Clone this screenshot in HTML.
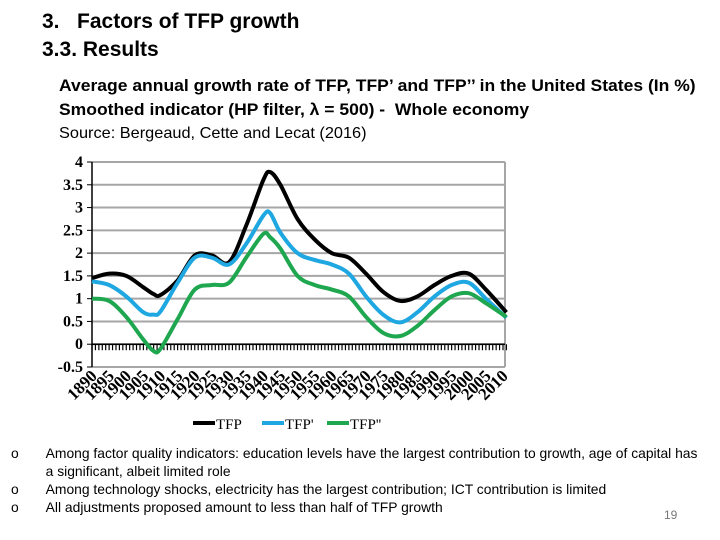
<!DOCTYPE html>
<html><head><meta charset="utf-8"><style>
body{margin:0;width:720px;height:540px;background:#fff;position:relative;overflow:hidden;font-family:"Liberation Sans",sans-serif;color:#000}
.t{position:absolute;white-space:nowrap;transform-origin:0 0}
</style></head><body>
<div class="t" style="left:42px;top:10px;font-size:21px;font-weight:bold;transform:scaleX(1.0)">3.&nbsp;&nbsp;&nbsp;Factors of TFP growth</div>
<div class="t" style="left:42px;top:38px;font-size:21px;font-weight:bold;transform:scaleX(1.0)">3.3. Results</div>
<div class="t" style="left:59px;top:76px;font-size:17px;font-weight:bold;transform:scaleX(1.03)">Average annual growth rate of TFP, TFP’ and TFP’’ in the United States (In %)</div>
<div class="t" style="left:59px;top:100px;font-size:17px;font-weight:bold;transform:scaleX(1.03)">Smoothed indicator (HP filter, λ = 500) -&nbsp; Whole economy</div>
<div class="t" style="left:59px;top:125px;font-size:16px;transform:scaleX(1.02)">Source: Bergeaud, Cette and Lecat (2016)</div>

<svg id="chart" width="720" height="540" style="position:absolute;left:0;top:0" font-family="Liberation Serif, serif"></svg>

<div class="t" style="left:11px;top:444px;font-size:14px;line-height:18px;transform:scaleX(0.99)">
<div><span style="display:inline-block;width:35px">o</span>Among factor quality indicators: education levels have the largest contribution to growth, age of capital has<br><span style="display:inline-block;width:35px"></span>a significant, albeit limited role</div>
<div><span style="display:inline-block;width:35px">o</span>Among technology shocks, electricity has the largest contribution; ICT contribution is limited</div>
<div><span style="display:inline-block;width:35px">o</span>All adjustments proposed amount to less than half of TFP growth</div>
</div>
<div class="t" style="left:664px;top:508px;font-size:12px;color:#777">19</div>

<script>
const years   = [1890,1895,1900,1905,1908,1910,1915,1920,1925,1930,1935,1940,1942,1945,1950,1955,1960,1965,1970,1975,1980,1985,1990,1995,2000,2005,2011];
const tfp     = [1.45,1.55,1.5,1.25,1.1,1.08,1.4,1.95,1.95,1.8,2.6,3.6,3.78,3.5,2.75,2.3,2.0,1.9,1.55,1.15,0.95,1.05,1.3,1.5,1.55,1.2,0.7];
const tfp1    = [1.38,1.3,1.05,0.7,0.65,0.72,1.35,1.9,1.9,1.75,2.2,2.82,2.88,2.45,2.0,1.85,1.75,1.55,1.05,0.65,0.48,0.7,1.05,1.3,1.35,1.0,0.58];
const tfp2    = [1.0,0.95,0.6,0.1,-0.15,-0.1,0.55,1.2,1.3,1.35,1.9,2.42,2.35,2.1,1.5,1.3,1.2,1.05,0.6,0.25,0.18,0.4,0.75,1.05,1.12,0.9,0.6];
const yTicks  = [4,3.5,3,2.5,2,1.5,1,0.5,0,-0.5];
const xLabels = [1890,1895,1900,1905,1910,1915,1920,1925,1930,1935,1940,1945,1950,1955,1960,1965,1970,1975,1980,1985,1990,1995,2000,2005,2010];
const seriesNames = ["TFP","TFP'","TFP''"];

const svg=document.getElementById('chart');
const NS='http://www.w3.org/2000/svg';
const L=92,R=505,T=162,B=367;
const x=y=>L+(y-1890)*(503-92)/120;
const yv=v=>T+(4-v)*(B-T)/4.5;
function mk(tag,attrs,parent){const e=document.createElementNS(NS,tag);for(const k in attrs)e.setAttribute(k,attrs[k]);(parent||svg).appendChild(e);return e;}

yTicks.forEach(v=>{
  const g=mk('line',{x1:L,x2:R,y1:yv(v),y2:yv(v),stroke:'#a6a6a6','stroke-width':2});
  
  
  const t=mk('text',{x:L-9,y:yv(v)+5,'text-anchor':'end','font-size':16,'font-weight':'bold'});
  t.textContent=v;
  
  
});
const ax=mk('line',{x1:L,x2:L,y1:T,y2:B,stroke:'#000','stroke-width':1.5});


yTicks.forEach(v=>{const tk=mk('line',{x1:L-5,x2:L,y1:yv(v),y2:yv(v),stroke:'#000'});

});
const rb=mk('line',{x1:R,x2:R,y1:T,y2:B,stroke:'#a6a6a6','stroke-width':2});


const xa=mk('line',{x1:L,x2:R,y1:yv(0),y2:yv(0),stroke:'#000','stroke-width':1.5});


for(let yr=1890;yr<=2011;yr++){
  const tk=mk('line',{x1:x(yr),x2:x(yr),y1:yv(0),y2:yv(0)+6,stroke:'#000','stroke-width':1.2});
  
  
}
xLabels.forEach(yr=>{
  const t=mk('text',{x:0,y:0,'text-anchor':'end','font-size':17,'font-weight':'bold',transform:`translate(${x(yr)+6},${B+10}) rotate(-45)`});
  t.textContent=yr;
  
  
});
function path(vals){
  const p=years.map((yr,i)=>[x(yr),yv(vals[i])]);
  let d=`M${p[0][0]},${p[0][1]}`;
  for(let i=0;i<p.length-1;i++){
    const p0=p[Math.max(0,i-1)],p1=p[i],p2=p[i+1],p3=p[Math.min(p.length-1,i+2)];
    const c1=[p1[0]+(p2[0]-p0[0])/6,p1[1]+(p2[1]-p0[1])/6];
    const c2=[p2[0]-(p3[0]-p1[0])/6,p2[1]-(p3[1]-p1[1])/6];
    d+=` C${c1[0]},${c1[1]} ${c2[0]},${c2[1]} ${p2[0]},${p2[1]}`;
  }
  return d;
}
const colors=['#000000','#1ea7e1','#1fa750'];
[tfp,tfp1,tfp2].forEach((s,i)=>{
  const e=mk('path',{d:path(s),fill:'none',stroke:colors[i],'stroke-width':4,'stroke-linejoin':'round'});
  
  
});
const lx=[193,262,327];
seriesNames.forEach((n,i)=>{
  const l=mk('line',{x1:lx[i],x2:lx[i]+22,y1:423,y2:423,stroke:colors[i],'stroke-width':4});
  
  
  const t=mk('text',{x:lx[i]+23,y:429,'font-size':15});
  t.textContent=n;
  
  
});
</script>
</body></html>
